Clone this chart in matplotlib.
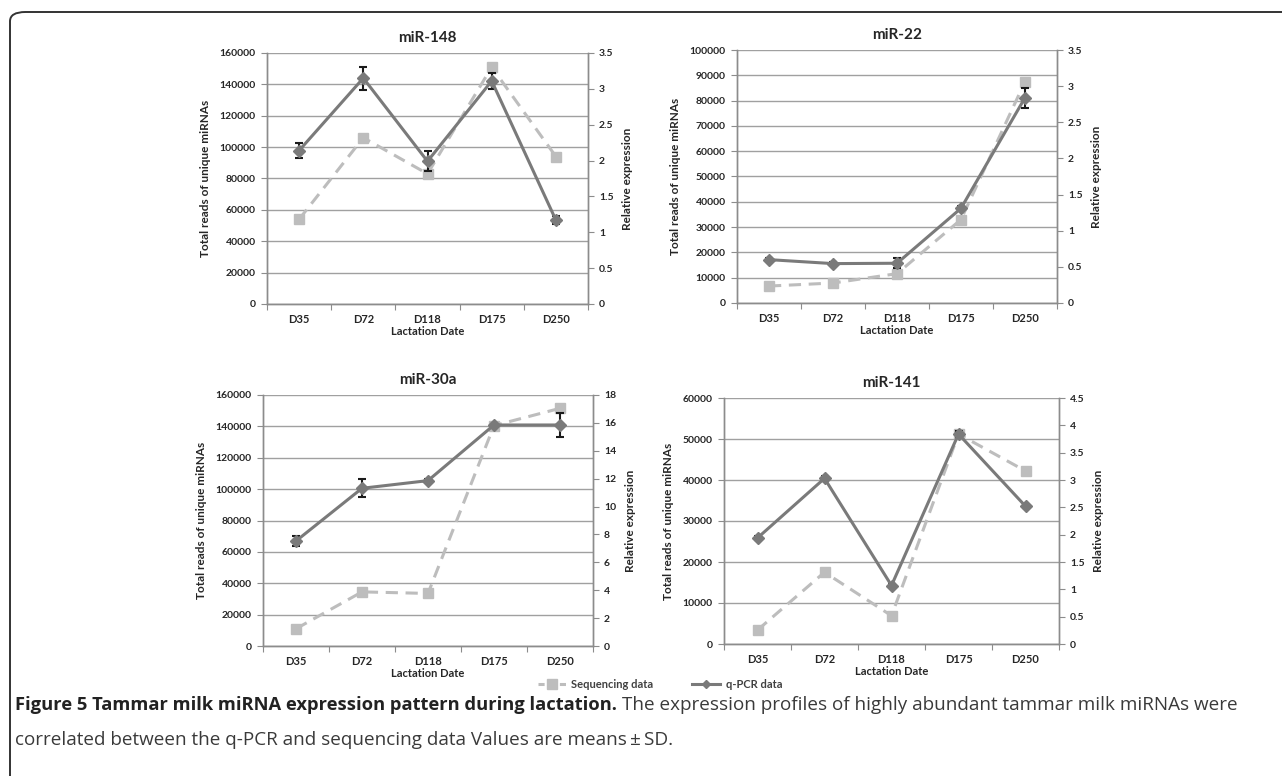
import numpy as np
import matplotlib.pyplot as plt
from matplotlib.lines import Line2D
from matplotlib.patches import FancyBboxPatch

dates = ['D35', 'D72', 'D118', 'D175', 'D250']

titles = ['miR-148', 'miR-22', 'miR-30a', 'miR-141']

# sequencing data: total reads (left axis)
seq_148 = [54000, 106000, 83000, 151000, 94000]
seq_22 = [6700, 7900, 11600, 33000, 87500]
seq_30a = [11000, 34500, 33500, 140500, 151500]
seq_141 = [3400, 17500, 6900, 51200, 42200]

# q-PCR data: relative expression (right axis) and SD
qpcr_148 = [2.14, 3.15, 1.99, 3.11, 1.17]
sd_148 = [0.10, 0.16, 0.14, 0.11, 0.06]
qpcr_22 = [0.60, 0.545, 0.55, 1.31, 2.84]
sd_22 = [0.02, 0.02, 0.07, 0.03, 0.14]
qpcr_30a = [7.53, 11.31, 11.86, 15.85, 15.85]
sd_30a = [0.36, 0.65, 0.10, 0.10, 0.86]
qpcr_141 = [1.94, 3.03, 1.07, 3.84, 2.52]
sd_141 = [0.03, 0.04, 0.03, 0.05, 0.03]

left_max = [160000, 100000, 160000, 60000]
left_step = [20000, 10000, 20000, 10000]
right_max = [3.5, 3.5, 18, 4.5]
right_step = [0.5, 0.5, 2, 0.5]

W, H = 1282, 776
# axes boxes in pixels: left, right, top, bottom
boxes = [(267, 588, 53, 304), (737, 1057, 50, 303),
         (263, 593, 395, 646), (724, 1059, 398, 644)]

seq_all = [seq_148, seq_22, seq_30a, seq_141]
qpcr_all = [qpcr_148, qpcr_22, qpcr_30a, qpcr_141]
sd_all = [sd_148, sd_22, sd_30a, sd_141]

seq_color = '#BDBDBD'
qpcr_color = '#7A7A7A'
axis_color = '#8C8C8C'
grid_color = '#A0A0A0'
text_color = '#262626'

plt.rcParams['font.family'] = ['Lato', 'DejaVu Sans']

fig = plt.figure(figsize=(W / 100, H / 100), dpi=100)

def fmt_num(v):
    if float(v).is_integer():
        return str(int(v))
    return f'{v:g}'

x = np.arange(len(dates))
for i in range(4):
    l, r, t, b = boxes[i]
    ax = fig.add_axes([l / W, 1 - b / H, (r - l) / W, (b - t) / H])
    ax2 = ax.twinx()

    ax.set_xlim(-0.5, len(dates) - 0.5)
    ax.set_ylim(0, left_max[i])
    ax2.set_ylim(0, right_max[i])
    lt = np.arange(0, left_max[i] + 1, left_step[i])
    ax.set_yticks(lt)
    ax.set_yticklabels([fmt_num(v) for v in lt])
    rt = np.arange(0, right_max[i] + 1e-9, right_step[i])
    ax2.set_yticks(rt)
    ax2.set_yticklabels([fmt_num(round(v, 2)) for v in rt])

    ax.yaxis.grid(True, color=grid_color, linewidth=1.0)
    ax.set_axisbelow(True)

    ax.set_xticks(np.arange(-0.5, len(dates), 1.0))
    ax.set_xticklabels([])
    ax.set_xticks(x, minor=True)
    ax.set_xticklabels(dates, minor=True)
    ax.tick_params(axis='x', which='major', length=4, color=axis_color, direction='out')
    ax.tick_params(axis='x', which='minor', length=0, pad=7, labelsize=8, labelcolor=text_color)
    ax.tick_params(axis='y', length=4, color=axis_color, labelsize=7.5, labelcolor=text_color, pad=4)
    ax2.tick_params(axis='y', length=4, color=axis_color, labelsize=7.5, labelcolor=text_color, pad=4)
    for lab in ax.get_xticklabels(minor=True) + ax.get_yticklabels() + ax2.get_yticklabels():
        lab.set_fontweight('bold')

    for a in (ax, ax2):
        a.spines['top'].set_visible(False)
        for s in ('left', 'right', 'bottom'):
            a.spines[s].set_color(axis_color)
            a.spines[s].set_linewidth(1.0)

    ax.plot(x, seq_all[i], color=seq_color, linestyle=(0, (4, 2.5)), linewidth=2.2,
            marker='s', markersize=7.5, markerfacecolor=seq_color, markeredgecolor=seq_color, zorder=3)
    ax2.errorbar(x, qpcr_all[i], yerr=sd_all[i], color=qpcr_color, linewidth=2.2,
                 marker='D', markersize=6, markerfacecolor=qpcr_color, markeredgecolor=qpcr_color,
                 ecolor='#1a1a1a', elinewidth=1.5, capsize=3, capthick=1.5, zorder=4)

    ax.set_title(titles[i], fontsize=11, fontweight='bold', color=text_color, pad=8)
    ax.set_xlabel('Lactation Date', fontsize=8, fontweight='bold', color=text_color, labelpad=1)
    ax.set_ylabel('Total reads of unique miRNAs', fontsize=8.5, fontweight='bold', color=text_color, labelpad=6)
    ax2.set_ylabel('Relative expression', fontsize=8.5, fontweight='bold', color=text_color, labelpad=6)

handles = [
    Line2D([0], [0], color=seq_color, linestyle=(0, (2, 1.5)), linewidth=2.2, marker='s',
           markersize=7, markerfacecolor=seq_color, markeredgecolor=seq_color, label='Sequencing data'),
    Line2D([0], [0], color=qpcr_color, linewidth=2.2, marker='D', markersize=4,
           markerfacecolor=qpcr_color, markeredgecolor=qpcr_color, label='q-PCR data'),
]
leg = fig.legend(handles=handles, loc='center', bbox_to_anchor=(660 / W, 1 - 684 / H), ncol=2,
                 frameon=False, fontsize=8, handlelength=2.5, columnspacing=3.5, handletextpad=0.5)
for t in leg.get_texts():
    t.set_color('#404040')
    t.set_fontweight('bold')

# caption frame
frame = FancyBboxPatch((10 / W, -0.05), 1.2, 1 - 12 / H + 0.05,
                       boxstyle='round,pad=0,rounding_size=0.012', transform=fig.transFigure,
                       fill=False, edgecolor='#333333', linewidth=1.4, clip_on=False)
fig.patches.append(frame)

cap_font = ['Open Sans', 'DejaVu Sans']
bold_txt = fig.text(15 / W, 1 - 705 / H, 'Figure 5 Tammar milk miRNA expression pattern during lactation.',
                    fontsize=13.2, fontweight='bold', family=cap_font, color='#222222', va='center')
fig.canvas.draw()
bb = bold_txt.get_window_extent(renderer=fig.canvas.get_renderer())
fig.text((bb.x1 + 5) / W, 1 - 705 / H,
         'The expression profiles of highly abundant tammar milk miRNAs were',
         fontsize=13.6, family=cap_font, color='#3a3a3a', va='center')
fig.text(15 / W, 1 - 740 / H, 'correlated between the q-PCR and sequencing data Values are means\u2009\u00b1\u2009SD.',
         fontsize=13.6, family=cap_font, color='#3a3a3a', va='center')

fig.savefig('out.png', dpi=100)
